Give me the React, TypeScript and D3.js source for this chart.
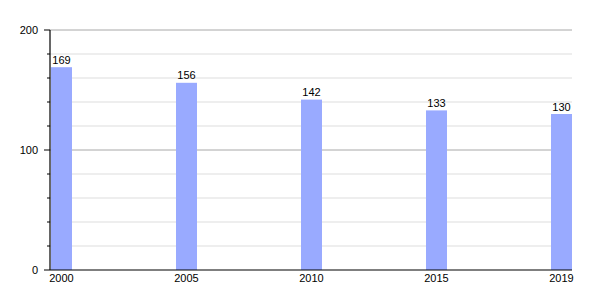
import React from "react";
import * as d3 from "d3";

const years = ["2000", "2005", "2010", "2015", "2019"];
const values = [169, 156, 142, 133, 130];
const majorTicks = [0, 100, 200];
const minorTicks = [20, 40, 60, 80, 120, 140, 160, 180];

export default function App() {
  const W = 600, H = 300;
  const left = 50, right = 572, top = 30, bottom = 270;
  const y = d3.scaleLinear().domain([0, 200]).range([bottom, top]);
  const x = d3.scalePoint<string>().domain(years).range([61.5, 561.5]);
  const bw = 21;
  const font = "'Liberation Sans', Arial, sans-serif";
  return (
    <svg width={W} height={H} style={{ position: "absolute", left: 0, top: 0, background: "#fff" }} fontFamily={font}>
      {minorTicks.map((t) => (
        <g key={"m" + t}>
          <line x1={left} x2={right} y1={y(t)} y2={y(t)} stroke="#dddddd" strokeWidth={1} />
          <line x1={left - 3} x2={left} y1={y(t)} y2={y(t)} stroke="#000" strokeWidth={1} />
        </g>
      ))}
      {majorTicks.filter((t) => t > 0).map((t) => (
        <line key={"M" + t} x1={left} x2={right} y1={y(t)} y2={y(t)} stroke="#a8a8a8" strokeWidth={1} />
      ))}
      {years.map((yr, i) => (
        <g key={yr}>
          <rect x={x(yr)! - bw / 2} y={y(values[i])} width={bw} height={y(0) - y(values[i])} fill="#99aaff" />
          <text x={x(yr)!} y={y(values[i]) - 3.5} textAnchor="middle" fontSize={11} fill="#000">{values[i]}</text>
          <text x={x(yr)!} y={282} textAnchor="middle" fontSize={11} fill="#000">{yr}</text>
        </g>
      ))}
      {majorTicks.map((t) => (
        <g key={"t" + t}>
          <line x1={left - 6} x2={left} y1={y(t)} y2={y(t)} stroke="#000" strokeWidth={1} />
          <text x={38} y={y(t) + 4} textAnchor="end" fontSize={11} fill="#000">{t}</text>
        </g>
      ))}
      <line x1={left} x2={left} y1={top} y2={bottom} stroke="#000" strokeWidth={1.2} />
      <line x1={left} x2={right} y1={bottom} y2={bottom} stroke="#000" strokeWidth={1.2} />
    </svg>
  );
}
